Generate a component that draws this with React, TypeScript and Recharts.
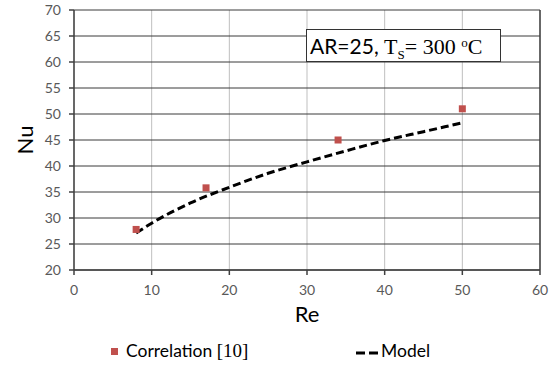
// Nu vs Re — correlation points against the model curve (AR=25, Ts=300 °C).
import { ComposedChart, Line, Scatter, XAxis, YAxis, CartesianGrid, ReferenceLine } from "recharts";

const RE_TICKS = [0, 10, 20, 30, 40, 50, 60];
const NU_TICKS = [20, 25, 30, 35, 40, 45, 50, 55, 60, 65, 70];

const CORR_RE = [8, 17, 34, 50];
const CORR_NU = [27.8, 35.8, 45.0, 51.0];

const MODEL_RE = [8, 10, 15, 20, 25, 30, 35, 40, 45, 50];
const MODEL_NU = [27.1, 29.0, 32.9, 35.9, 38.6, 40.8, 42.9, 44.9, 46.6, 48.3];

const corrData = CORR_RE.map((re, i) => ({ re, nu: CORR_NU[i] }));
const modelData = MODEL_RE.map((re, i) => ({ re, nu: MODEL_NU[i] }));

const RED = "#C0504D";
const AXIS = "#404040";
const SANS = "Lato, 'Open Sans', sans-serif";
const SERIF = "'Liberation Serif', 'DejaVu Serif', serif";

const tick = { fontSize: 14, fill: "#595959", fontFamily: SANS };

const Square = (p: any) => <rect x={p.cx - 3.5} y={p.cy - 3.5} width={7} height={7} fill={RED} />;

const XLabel = (p: any) => {
  const vb = p.viewBox;
  return (
    <text x={vb.x + vb.width / 2} y={vb.y + 52} textAnchor="middle" fontSize={22} fontFamily={SANS} fill="#000">
      Re
    </text>
  );
};

const YLabel = (p: any) => {
  const vb = p.viewBox;
  const cx = 33;
  const cy = vb.y + vb.height / 2;
  return (
    <text x={cx} y={cy} transform={`rotate(-90 ${cx} ${cy})`} textAnchor="middle" fontSize={22} fontFamily={SANS} fill="#000">
      Nu
    </text>
  );
};

export default function App() {
  return (
    <div style={{ position: "absolute", left: 0, top: 0, width: 557, height: 366, background: "#fff" }}>
      <ComposedChart width={557} height={366} margin={{ top: 10, right: 17, left: 0, bottom: 0 }}>
        <CartesianGrid horizontal={false} stroke="#bfbfbf" />
        <CartesianGrid vertical={false} stroke="#3a3a3a" />
        <XAxis
          type="number"
          dataKey="re"
          domain={[0, 60]}
          ticks={RE_TICKS}
          height={96}
          tick={tick}
          tickSize={5}
          tickMargin={10}
          stroke={AXIS}
          strokeWidth={1.5}
          label={<XLabel />}
        />
        <YAxis
          type="number"
          dataKey="nu"
          domain={[20, 70]}
          ticks={NU_TICKS}
          width={74}
          tick={tick}
          tickSize={5}
          tickMargin={8}
          stroke={AXIS}
          strokeWidth={1.5}
          label={<YLabel />}
        />
        <ReferenceLine x={60} stroke={AXIS} strokeWidth={1.5} />
        <Line
          data={modelData}
          dataKey="nu"
          type="monotone"
          stroke="#000"
          strokeWidth={3}
          strokeDasharray="8 4"
          dot={false}
          isAnimationActive={false}
        />
        <Scatter data={corrData} dataKey="nu" shape={<Square />} isAnimationActive={false} />
      </ComposedChart>

      <div
        style={{
          position: "absolute",
          left: 306,
          top: 29,
          width: 190,
          height: 31,
          border: "1px solid #333",
          background: "#fff",
          whiteSpace: "nowrap",
          lineHeight: "31px",
          paddingLeft: 3,
          color: "#000",
        }}
      >
        <span style={{ fontFamily: SANS, fontSize: 21 }}>AR=25, </span>
        <span style={{ fontFamily: SERIF, fontSize: 22 }}>
          T<sub style={{ fontSize: 13, verticalAlign: "-5px", lineHeight: 0 }}>S</sub>= 300{" "}
          <sup style={{ fontSize: 13, verticalAlign: "7px", lineHeight: 0 }}>o</sup>C
        </span>
      </div>

      <div style={{ position: "absolute", left: 0, top: 338, width: 557, height: 28, whiteSpace: "nowrap", color: "#000" }}>
        <div style={{ position: "absolute", left: 111, top: 10, width: 7, height: 7, background: RED }} />
        <div style={{ position: "absolute", left: 126, top: 1, fontFamily: SANS, fontSize: 17.5, lineHeight: "24px" }}>
          Correlation <span style={{ fontFamily: SERIF, fontSize: 19 }}>[10]</span>
        </div>
        <svg style={{ position: "absolute", left: 355, top: 12 }} width={26} height={6}>
          <line x1={1} y1={3} x2={24} y2={3} stroke="#000" strokeWidth={3} strokeDasharray="9 4" />
        </svg>
        <div style={{ position: "absolute", left: 381, top: 1, fontFamily: SANS, fontSize: 17.5, lineHeight: "24px" }}>
          Model
        </div>
      </div>
    </div>
  );
}
